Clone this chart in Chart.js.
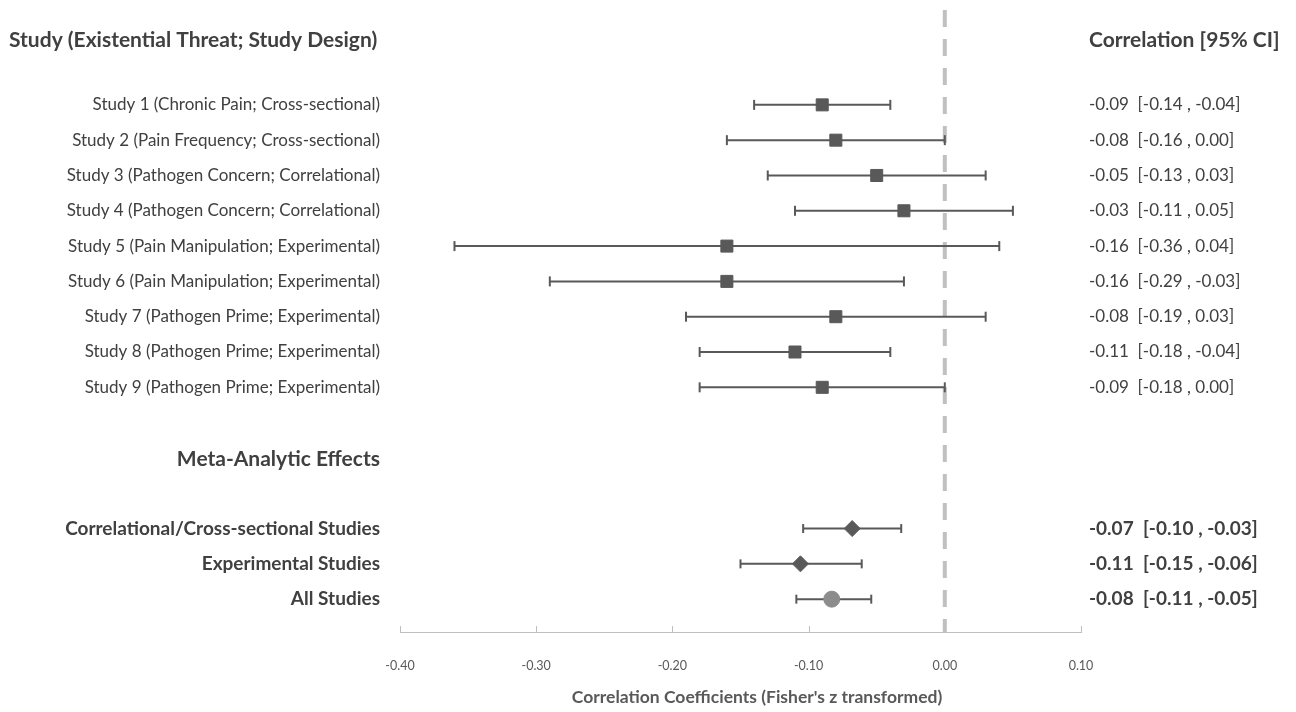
<!DOCTYPE html>
<html>
<head>
<meta charset="utf-8">
<script src="https://cdn.jsdelivr.net/npm/chart.js@4.4.0/dist/chart.umd.min.js"></script>
<style>
  html, body { margin: 0; padding: 0; background: #fff; }
  #wrap { width: 1296px; height: 712px; }
</style>
</head>
<body>
<div id="wrap"><canvas id="forestChart" width="1296" height="712"></canvas></div>
<script>
// Forest plot data
var rowLabels = [
    'Study 1 (Chronic Pain; Cross-sectional)',
    'Study 2 (Pain Frequency; Cross-sectional)',
    'Study 3 (Pathogen Concern; Correlational)',
    'Study 4 (Pathogen Concern; Correlational)',
    'Study 5 (Pain Manipulation; Experimental)',
    'Study 6 (Pain Manipulation; Experimental)',
    'Study 7 (Pathogen Prime; Experimental)',
    'Study 8 (Pathogen Prime; Experimental)',
    'Study 9 (Pathogen Prime; Experimental)',
    'Correlational/Cross-sectional Studies',
    'Experimental Studies',
    'All Studies'
];
var rowIndex = [1, 2, 3, 4, 5, 6, 7, 8, 9, 13, 14, 15];
var effect = [-0.09, -0.08, -0.05, -0.03, -0.16, -0.16, -0.08, -0.11, -0.09, -0.068, -0.106, -0.083];
var lower  = [-0.14, -0.16, -0.13, -0.11, -0.36, -0.29, -0.19, -0.18, -0.18, -0.104, -0.150, -0.109];
var upper  = [-0.04, 0.00, 0.03, 0.05, 0.04, -0.03, 0.03, -0.04, 0.00, -0.032, -0.061, -0.054];
var ciText = [
    '-0.09  [-0.14 , -0.04]',
    '-0.08  [-0.16 , 0.00]',
    '-0.05  [-0.13 , 0.03]',
    '-0.03  [-0.11 , 0.05]',
    '-0.16  [-0.36 , 0.04]',
    '-0.16  [-0.29 , -0.03]',
    '-0.08  [-0.19 , 0.03]',
    '-0.11  [-0.18 , -0.04]',
    '-0.09  [-0.18 , 0.00]',
    '-0.07  [-0.10 , -0.03]',
    '-0.11  [-0.15 , -0.06]',
    '-0.08  [-0.11 , -0.05]'
];
var isMeta = [false, false, false, false, false, false, false, false, false, true, true, true];
var markerStyle = ['rect', 'rect', 'rect', 'rect', 'rect', 'rect', 'rect', 'rect', 'rect', 'rectRot', 'rectRot', 'circle'];
var markerColor = ['#595959', '#595959', '#595959', '#595959', '#595959', '#595959', '#595959', '#595959', '#595959', '#595959', '#595959', '#8c8c8c'];
var markerSize = [8.5, 8.5, 8.5, 8.5, 8.5, 8.5, 8.5, 8.5, 8.5, 8, 8, 8];
var xTicks = [-0.40, -0.30, -0.20, -0.10, 0.00, 0.10];

var headerRow = -0.84;
var metaHeaderRow = 11.03;
var FONT = 'Lato, "Open Sans", sans-serif';
var TEXT = '#404040';

// build datasets
var datasets = [];

// reference line at zero
datasets.push({
    type: 'line',
    data: [{x: 0, y: -1.97}, {x: 0, y: 15.93}],
    borderColor: '#c0c0c0',
    borderWidth: 4,
    borderDash: [17, 12],
    borderDashOffset: 19,
    pointRadius: 0,
    order: 3
});

// confidence intervals with caps
for (var i = 0; i < rowIndex.length; i++) {
    datasets.push({
        type: 'line',
        data: [{x: lower[i], y: rowIndex[i]}, {x: upper[i], y: rowIndex[i]}],
        borderColor: '#595959',
        borderWidth: 2,
        pointStyle: 'line',
        pointRotation: 90,
        pointRadius: isMeta[i] ? 4.5 : 5,
        pointBorderColor: '#595959',
        pointBorderWidth: 2,
        order: 2
    });
}

// point estimates
datasets.push({
    type: 'scatter',
    data: effect.map(function (v, i) { return {x: v, y: rowIndex[i]}; }),
    pointStyle: markerStyle,
    pointRadius: markerSize,
    backgroundColor: markerColor,
    borderColor: markerColor,
    borderWidth: 1,
    order: 0
});

// text columns and axis decorations
var forestText = {
    id: 'forestText',
    afterDraw: function (chart) {
        var c = chart.ctx;
        var xs = chart.scales.x;
        var ys = chart.scales.y;
        c.save();
        c.textBaseline = 'middle';

        // headers
        c.fillStyle = TEXT;
        c.font = 'bold 21px ' + FONT;
        c.textAlign = 'left';
        c.fillText('Study (Existential Threat; Study Design)', 9, ys.getPixelForValue(headerRow));
        c.fillText('Correlation [95% CI]', 1089, ys.getPixelForValue(headerRow));
        c.textAlign = 'right';
        c.fillText('Meta-Analytic Effects', 380, ys.getPixelForValue(metaHeaderRow));

        // row labels
        for (var i = 0; i < rowLabels.length; i++) {
            var y = ys.getPixelForValue(rowIndex[i]);
            c.font = (isMeta[i] ? 'bold 19px ' : '17px ') + FONT;
            c.textAlign = 'right';
            c.fillText(rowLabels[i], 380, y);
            c.textAlign = 'left';
            c.fillText(ciText[i], 1089, y);
        }

        // tick marks pointing up from the axis
        c.strokeStyle = '#bfbfbf';
        c.lineWidth = 1;
        var base = chart.chartArea.bottom;
        xTicks.forEach(function (t) {
            var px = Math.round(xs.getPixelForValue(t)) + 0.5;
            c.beginPath();
            c.moveTo(px, base);
            c.lineTo(px, base - 6);
            c.stroke();
        });

        // axis title
        c.fillStyle = '#595959';
        c.font = 'bold 17.5px ' + FONT;
        c.textAlign = 'center';
        c.fillText("Correlation Coefficients (Fisher's z transformed)", 757, 697);
        c.restore();
    }
};

var ctx = document.getElementById('forestChart').getContext('2d');
var forestChart = new Chart(ctx, {
    type: 'scatter',
    data: { datasets: datasets },
    options: {
        responsive: false,
        animation: false,
        layout: { autoPadding: false, padding: { left: 400, right: 215, top: 0, bottom: 0 } },
        plugins: {
            legend: { display: false },
            tooltip: { enabled: false }
        },
        scales: {
            x: {
                type: 'linear',
                min: -0.4,
                max: 0.1,
                afterBuildTicks: function (scale) {
                    scale.ticks = xTicks.map(function (v) { return {value: v}; });
                },
                afterFit: function (scale) { scale.height = 80; },
                grid: { display: false },
                border: { display: true, color: '#bfbfbf', width: 1 },
                ticks: {
                    padding: 18,
                    color: '#595959',
                    font: { family: FONT, size: 12.5 },
                    callback: function (v) { return Number(v).toFixed(2); }
                }
            },
            y: {
                type: 'linear',
                display: false,
                reverse: true,
                min: -1.97,
                max: 15.93
            }
        }
    },
    plugins: [forestText]
});
</script>
</body>
</html>
